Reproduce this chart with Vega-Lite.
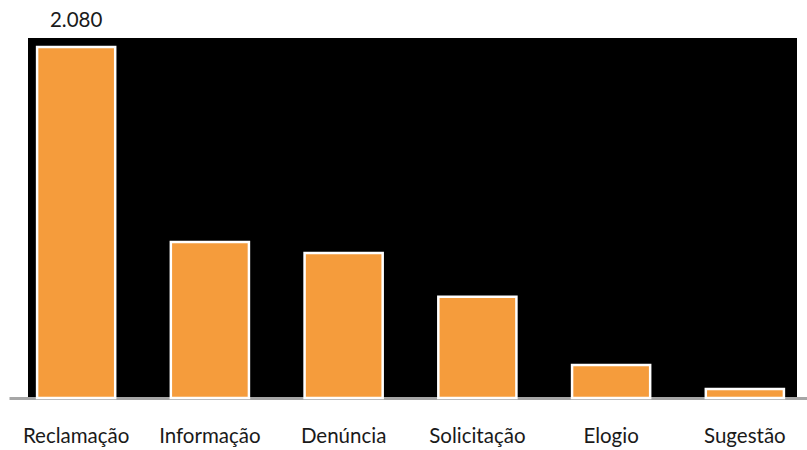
{
  "$schema": "https://vega.github.io/schema/vega-lite/v6.json",
  "width": 769,
  "height": 360,
  "padding": {"left": 28, "top": 38, "right": 10, "bottom": 52},
  "autosize": {"type": "none"},
  "background": "white",
  "config": {"view": {"fill": "black", "stroke": null}, "font": "Lato",
    "locale": {"number": {"decimal": ",", "thousands": ".", "grouping": [3], "currency": ["R$", ""]}}},
  "data": {"values": [
    {"cat": "Reclamação", "value": 2080},
    {"cat": "Informação", "value": 924},
    {"cat": "Denúncia", "value": 859},
    {"cat": "Solicitação", "value": 600},
    {"cat": "Elogio", "value": 196},
    {"cat": "Sugestão", "value": 53}
  ]},
  "encoding": {
    "x": {"field": "cat", "type": "nominal", "sort": null,
      "scale": {"range": [-19, 784], "paddingInner": 0.416, "paddingOuter": 0.21},
      "axis": {"title": null, "labelAngle": 0, "ticks": false, "domainColor": "#a6a6a6", "domainWidth": 3, "labelFontSize": 20.5, "labelColor": "#1a1a1a", "labelPadding": 28, "labelFont": "Lato"}},
    "y": {"field": "value", "type": "quantitative", "scale": {"domain": [0, 2134]}, "axis": null}
  },
  "layer": [
    {"mark": {"type": "bar", "color": "#f59c3c", "stroke": "white", "strokeWidth": 2.5}},
    {"transform": [{"filter": "datum.cat == 'Reclamação'"}],
     "mark": {"type": "text", "baseline": "bottom", "dy": -16, "fontSize": 20.5, "color": "#1a1a1a"},
     "encoding": {"text": {"field": "value", "type": "quantitative", "format": ",.0f"}}}
  ]
}
